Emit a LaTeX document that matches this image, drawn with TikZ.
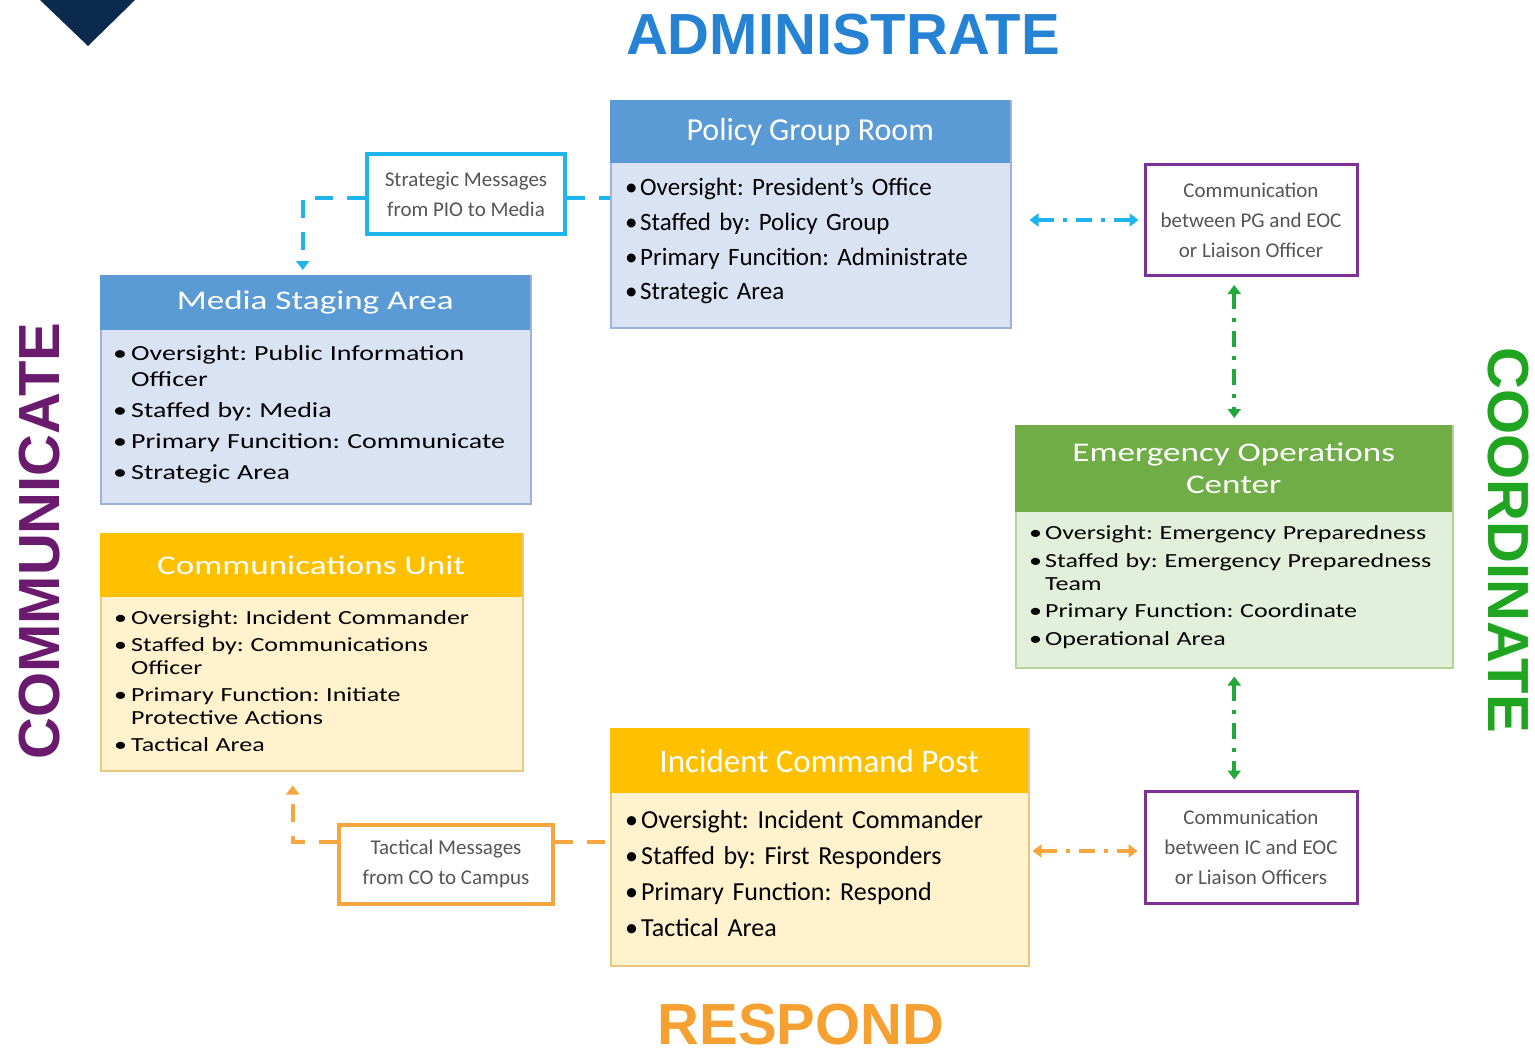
\documentclass[tikz,border=0pt]{standalone}
\usepackage{fontspec}
\setmainfont{Carlito}
\newfontfamily\widefont[FakeStretch=1.3]{Carlito}
\newfontfamily\bigfont{Liberation Sans}
\usetikzlibrary{positioning,arrows.meta,calc}
\definecolor{navy}{HTML}{0C2A4E}
\definecolor{adminblue}{HTML}{2683D3}
\definecolor{respondorange}{HTML}{F5A030}
\definecolor{commpurple}{HTML}{6A1B6E}
\definecolor{coordgreen}{HTML}{1FA51F}
\definecolor{headblue}{HTML}{5B9BD5}
\definecolor{bodyblue}{HTML}{DAE3F3}
\definecolor{edgeblue}{HTML}{9DB3DC}
\definecolor{headgold}{HTML}{FFC000}
\definecolor{bodygold}{HTML}{FFF2CC}
\definecolor{edgegold}{HTML}{E9C77E}
\definecolor{headgreen}{HTML}{70AD47}
\definecolor{bodygreen}{HTML}{E2EFDA}
\definecolor{edgegreen}{HTML}{B4D39B}
\definecolor{msgcyan}{HTML}{1EB4EE}
\definecolor{msgpurple}{HTML}{7B3294}
\definecolor{msgorange}{HTML}{F7A53C}
\definecolor{linkgreen}{HTML}{22A83A}
\definecolor{msggray}{HTML}{555555}
\newlength{\bulw}
\newcommand{\bul}[1]{\par\hangindent=\bulw\hangafter=1\noindent\makebox[\bulw][l]{\textbullet}#1}
\frenchspacing

\begin{document}
\begin{tikzpicture}[x=1pt, y=-1pt,
  areabox/.style={rectangle, inner sep=0pt, anchor=north west, line width=1.5pt},
  areahead/.style={rectangle, inner sep=0pt, anchor=north west, text=white},
  areatext/.style={anchor=north west, inner sep=0pt, align=left, text width=#1},
  msgbox/.style={rectangle, inner sep=0pt, fill=white, text=msggray, align=center,
    font=\fontsize{21}{30}\selectfont},
  bigword/.style={inner sep=0pt, font=\bigfont\bfseries\fontsize{58}{60}\selectfont},
  linkend/.style={line width=4pt},
  msglink/.style={linkend, dash pattern=on 18pt off 14pt},
  duallink/.style={linkend, dash pattern=on 16pt off 9pt on 4pt off 9pt,
    {Triangle[length=9pt,width=13pt]}-{Triangle[length=9pt,width=13pt]}}]
  \useasboundingbox (0,0) rectangle (1535,1057);
  \fill[navy] (40,0) -- (135,0) -- (88,46) -- cycle;

  \node[bigword, text=adminblue] (admin) at (843,35) {ADMINISTRATE};
  \node[bigword, text=respondorange] (respond) at (801,1025) {RESPOND};
  \node[bigword, text=commpurple, rotate=90] (commun) at (40,541) {COMMUNICATE};
  \node[bigword, text=coordgreen, rotate=-90] (coord) at (1508,540) {COORDINATE};

  % policy group room
  \node[areabox, draw=edgeblue, fill=bodyblue, minimum width=400, minimum height=227] (pgr) at (610,100) {};
  \node[areahead, fill=headblue, minimum width=400, minimum height=63,
    font=\fontsize{32}{36}\selectfont] (pgrhead) at (pgr.north west) {Policy Group Room};
  \node[areatext=380, font=\fontsize{25}{34.7}\selectfont\setlength{\bulw}{15pt}] (pgrtext) at (625,161) {%
    \bul{Oversight: President's Office}\bul{Staffed by: Policy Group}%
    \bul{Primary Funcition: Administrate}\bul{Strategic Area}};

  % media staging area
  \node[areabox, draw=edgeblue, fill=bodyblue, minimum width=430, minimum height=228] (msa) at (100,275) {};
  \node[areahead, fill=headblue, minimum width=430, minimum height=55,
    font=\widefont\fontsize{27}{30}\selectfont] (msahead) at (msa.north west) {Media Staging Area};
  \node[areatext=412, font=\widefont\fontsize{21.5}{26}\selectfont\setlength{\bulw}{18pt}\setlength{\parskip}{5pt}] (msatext) at (113,329) {%
    \bul{Oversight: Public Information\newline Officer}\bul{Staffed by: Media}%
    \bul{Primary Funcition: Communicate}\bul{Strategic Area}};

  % communications unit
  \node[areabox, draw=edgegold, fill=bodygold, minimum width=422, minimum height=237] (cu) at (100,533) {};
  \node[areahead, fill=headgold, minimum width=422, minimum height=64,
    font=\widefont\fontsize{27}{30}\selectfont] (cuhead) at (cu.north west) {Communications Unit};
  \node[areatext=400, font=\widefont\fontsize{20}{23.5}\selectfont\setlength{\bulw}{17pt}\setlength{\parskip}{3pt}] (cutext) at (114,598) {%
    \bul{Oversight: Incident Commander}\bul{Staffed by: Communications\newline Officer}%
    \bul{Primary Function: Initiate\newline Protective Actions}\bul{Tactical Area}};

  % emergency operations center
  \node[areabox, draw=edgegreen, fill=bodygreen, minimum width=437, minimum height=242] (eoc) at (1015,425) {};
  \node[areahead, fill=headgreen, minimum width=437, minimum height=87, align=center,
    font=\widefont\fontsize{27}{32}\selectfont] (eochead) at (eoc.north west) {Emergency Operations\\Center};
  \node[areatext=415, font=\widefont\fontsize{20}{23}\selectfont\setlength{\bulw}{16pt}\setlength{\parskip}{4.5pt}] (eoctext) at (1029,512) {%
    \bul{Oversight: Emergency Preparedness}\bul{Staffed by: Emergency Preparedness\newline Team}%
    \bul{Primary Function: Coordinate}\bul{Operational Area}};

  % incident command post
  \node[areabox, draw=edgegold, fill=bodygold, minimum width=418, minimum height=237] (icp) at (610,728) {};
  \node[areahead, fill=headgold, minimum width=418, minimum height=65,
    font=\fontsize{33}{36}\selectfont] (icphead) at (icp.north west) {Incident Command Post};
  \node[areatext=395, font=\fontsize{26}{36}\selectfont\setlength{\bulw}{16pt}] (icptext) at (625,792) {%
    \bul{Oversight: Incident Commander}\bul{Staffed by: First Responders}%
    \bul{Primary Function: Respond}\bul{Tactical Area}};

  % message boxes
  \node[msgbox, draw=msgcyan, line width=4pt, minimum width=198, minimum height=80] (smsg) at (466,194) {Strategic Messages\\from PIO to Media};
  \node[msgbox, draw=msgpurple, line width=3pt, minimum width=212, minimum height=111] (pgmsg) at (1251,220) {Communication\\between PG and EOC\\or Liaison Officer};
  \node[msgbox, draw=msgorange, line width=4pt, minimum width=214, minimum height=79] (tmsg) at (446,864) {Tactical Messages\\from CO to Campus};
  \node[msgbox, draw=msgpurple, line width=3pt, minimum width=212, minimum height=112] (icmsg) at (1251,847) {Communication\\between IC and EOC\\or Liaison Officers};

  % connectors
  \draw[msglink, msgcyan] ([yshift=-4pt]smsg.east) -- ([yshift=-4pt]smsg.east -| pgr.west);
  \draw[msglink, msgcyan, -{Triangle[length=9pt,width=13pt]}, shorten >=5pt]
    ([yshift=-4pt]smsg.west) -| ([xshift=-13pt]msa.north);
  \draw[msglink, msgorange] ([yshift=22pt]tmsg.east) -- ([yshift=22pt]tmsg.east -| icp.west);
  \draw[msglink, msgorange, -{Triangle[length=9pt,width=13pt]}, shorten >=14pt]
    ([yshift=22pt]tmsg.west) -| ([xshift=-19pt]cu.south);
  \draw[duallink, msgcyan, shorten <=18pt, shorten >=5pt] (pgr.east |- pgmsg.west) -- (pgmsg.west);
  \draw[duallink, msgorange, shorten <=3pt, shorten >=6pt] ([yshift=-4pt]icp.east |- icmsg.west) -- ([yshift=-4pt]icmsg.west);
  \draw[duallink, linkgreen, shorten <=8pt, shorten >=7pt] (pgmsg.south -| eoc.north) -- (eoc.north);
  \draw[duallink, linkgreen, shorten <=8pt, shorten >=10pt] (eoc.south) -- (icmsg.north -| eoc.south);
\end{tikzpicture}
\end{document}
